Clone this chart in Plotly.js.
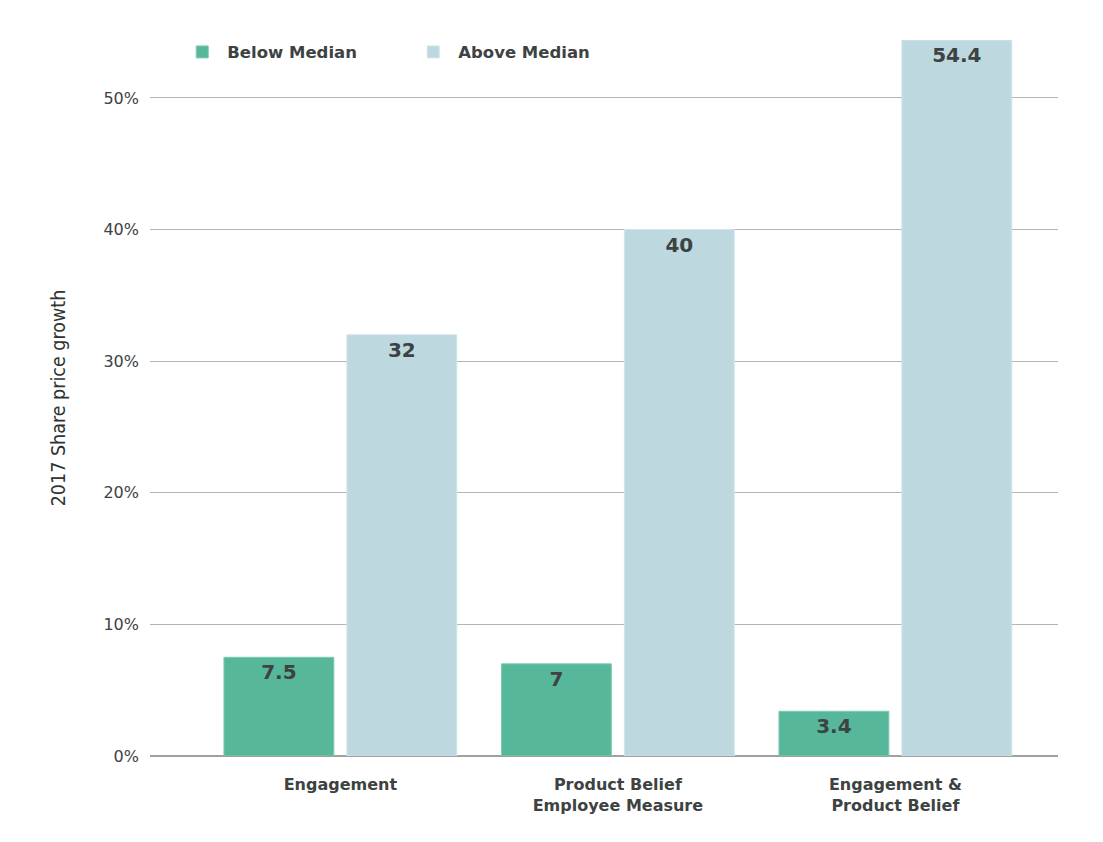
<!DOCTYPE html>
<html>
<head>
<meta charset="utf-8">
<script src="https://cdn.plot.ly/plotly-3.0.1.min.js"></script>
<style>
  html, body { margin: 0; padding: 0; background: #fff; }
  #grafico { width: 1103px; height: 842px; }
</style>
</head>
<body>
<div id="grafico"></div>
<script>
// categorias y valores
const categorias = ["Engagement", "Product Belief<br>Employee Measure", "Engagement &<br>Product Belief"];
const debajoMediana = [7.5, 7, 3.4];
const encimaMediana = [32, 40, 54.4];
const ticks = [0, 10, 20, 30, 40, 50];

const colorTexto = '#3d4242';
const fuente = 'DejaVu Sans';

const barrasDebajo = {
    x: categorias,
    y: debajoMediana,
    type: 'bar',
    name: 'Below Median',
    marker: { color: '#56b79a', line: { color: '#7fcab3', width: 1 } },
    text: debajoMediana.map(v => String(v)),
    textposition: 'inside',
    insidetextanchor: 'end',
    textfont: { family: fuente, size: 20, color: colorTexto, weight: 'bold' },
    hoverinfo: 'none'
};

const barrasEncima = {
    x: categorias,
    y: encimaMediana,
    type: 'bar',
    name: 'Above Median',
    marker: { color: '#bdd8df', line: { color: '#d3e5ea', width: 1 } },
    text: encimaMediana.map(v => String(v)),
    textposition: 'inside',
    insidetextanchor: 'end',
    textfont: { family: fuente, size: 20, color: colorTexto, weight: 'bold' },
    hoverinfo: 'none'
};

const layout = {
    width: 1103,
    height: 842,
    margin: { l: 150, r: 45, t: 40, b: 86 },
    paper_bgcolor: '#fff',
    plot_bgcolor: '#fff',
    barmode: 'group',
    bargap: 0.114,
    bargroupgap: 0.106,
    font: { family: fuente, color: colorTexto },
    showlegend: true,
    legend: {
        orientation: 'h',
        x: 0.03,
        y: 0.983,
        xanchor: 'left',
        yanchor: 'middle',
        font: { family: fuente, size: 16.5, color: colorTexto, weight: 'bold' },
        itemwidth: 40,
        entrywidth: 176,
        tracegroupgap: 0,
        bgcolor: 'rgba(0,0,0,0)'
    },
    xaxis: {
        type: 'category',
        range: [-0.686, 2.586],
        showgrid: false,
        zeroline: false,
        showline: false,
        ticks: '',
        tickfont: { family: fuente, size: 16, color: colorTexto, weight: 'bold' },
        ticklabelstandoff: 17
    },
    yaxis: {
        range: [0, 54.4],
        tickvals: ticks,
        ticktext: ticks.map(t => t + '%'),
        showgrid: true,
        gridcolor: '#b5b5b5',
        gridwidth: 1,
        zeroline: true,
        zerolinecolor: '#a0a0a0',
        zerolinewidth: 2,
        showline: false,
        ticks: '',
        ticklabelstandoff: 10,
        tickfont: { family: fuente, size: 16, color: colorTexto },
        title: {
            text: '2017 Share price growth',
            font: { family: 'DejaVu Sans Condensed', size: 19.5, color: '#2e3333' },
            standoff: 32
        }
    }
};

Plotly.newPlot('grafico', [barrasDebajo, barrasEncima], layout, { displayModeBar: false, staticPlot: true });
</script>
</body>
</html>
